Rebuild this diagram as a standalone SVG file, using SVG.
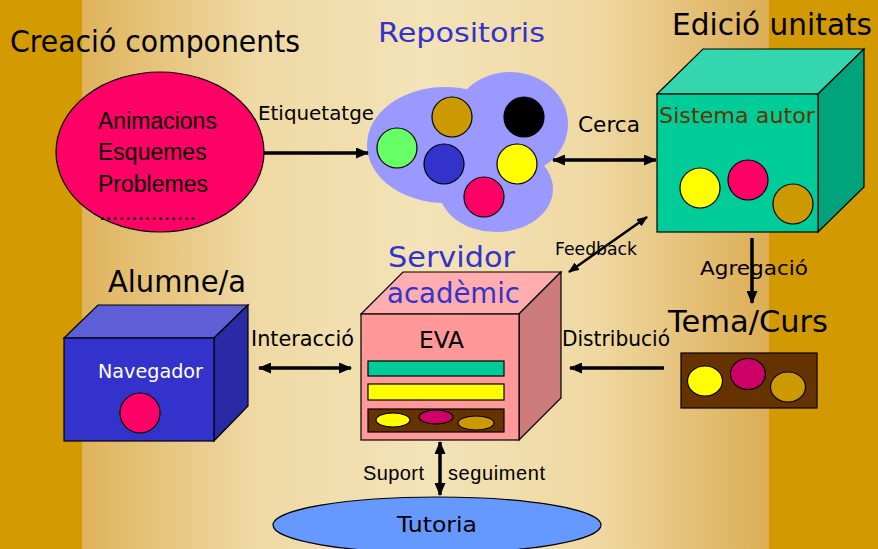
<svg xmlns="http://www.w3.org/2000/svg" width="878" height="549" viewBox="0 0 878 549">
<defs>
<linearGradient id="bg" x1="82" y1="0" x2="769" y2="0" gradientUnits="userSpaceOnUse">
<stop offset="0" stop-color="#DFB35C"/>
<stop offset="0.25" stop-color="#EFD9A4"/>
<stop offset="0.5" stop-color="#F3E3B8"/>
<stop offset="0.75" stop-color="#EFD8A2"/>
<stop offset="1" stop-color="#DCAD55"/>
</linearGradient>
<marker id="ah" markerUnits="userSpaceOnUse" markerWidth="13" markerHeight="11" refX="12" refY="5.5" orient="auto-start-reverse">
<path d="M0,0 L13,5.5 L0,11 z" fill="#000"/>
</marker>
<marker id="ahs" markerUnits="userSpaceOnUse" markerWidth="11" markerHeight="9" refX="10" refY="4.5" orient="auto-start-reverse">
<path d="M0,0 L11,4.5 L0,9 z" fill="#000"/>
</marker>
</defs>
<style>
.c{font-family:"DejaVu Sans","Liberation Sans",sans-serif;}
.a{font-family:"Liberation Sans",Arial,sans-serif;}
.blk{fill:#000;}
.blue{fill:#3333CC;}
.ol{stroke:#000;stroke-width:1.2;}
.arr{stroke:#000;stroke-width:3.5;fill:none;}
</style>
<rect x="0" y="0" width="878" height="549" fill="url(#bg)"/>
<rect x="0" y="0" width="82" height="549" fill="#D39B00"/>
<rect x="769" y="0" width="109" height="549" fill="#D29A00"/>

<g id="creacio">
<text class="c blk" x="10" y="52" font-size="30" textLength="290" lengthAdjust="spacingAndGlyphs">Creació components</text>
<ellipse class="ol" cx="160" cy="152" rx="104" ry="80" fill="#FF0066"/>
<text class="a blk" x="98" y="129" font-size="23">Animacions</text>
<text class="a blk" x="98" y="160" font-size="23">Esquemes</text>
<text class="a blk" x="98" y="192" font-size="23">Problemes</text>
<text class="a blk" x="99" y="220" font-size="23" textLength="97">...............</text>
</g>

<g id="repositoris">
<text class="c blue" x="378" y="42" font-size="26" textLength="167" lengthAdjust="spacingAndGlyphs">Repositoris</text>
<g fill="#9999FF">
<ellipse cx="445" cy="145" rx="78" ry="58"/>
<ellipse cx="510" cy="124" rx="58" ry="52"/>
<ellipse cx="496" cy="189" rx="57" ry="43"/>
</g>
<circle class="ol" cx="452" cy="117" r="20" fill="#CC9900"/>
<circle class="ol" cx="524" cy="117" r="20" fill="#000"/>
<circle class="ol" cx="397" cy="148" r="20" fill="#66FF66"/>
<circle class="ol" cx="444" cy="164" r="20" fill="#3333CC"/>
<circle class="ol" cx="517" cy="164" r="20" fill="#FFFF00"/>
<circle class="ol" cx="484" cy="197" r="20" fill="#FF0066"/>
</g>

<g id="edicio">
<text class="c blk" x="672" y="35" font-size="30" textLength="200" lengthAdjust="spacingAndGlyphs">Edició unitats</text>
<polygon class="ol" points="657,94 703,49 864,49 818,94" fill="#34D6AE"/>
<polygon class="ol" points="818,94 864,49 864,187 818,232" fill="#00A37A"/>
<rect class="ol" x="657" y="94" width="161" height="138" fill="#00CC99"/>
<text class="c" x="659" y="123" font-size="22" fill="#663300" textLength="156" lengthAdjust="spacingAndGlyphs">Sistema autor</text>
<circle class="ol" cx="700" cy="188" r="20" fill="#FFFF00"/>
<circle class="ol" cx="748" cy="180" r="20" fill="#FF0066"/>
<circle class="ol" cx="793" cy="204" r="20" fill="#CC9900"/>
</g>

<g id="tema">
<text class="c blk" x="668" y="332" font-size="31" textLength="160" lengthAdjust="spacingAndGlyphs">Tema/Curs</text>
<rect class="ol" x="681" y="353" width="136" height="55" fill="#663300"/>
<ellipse class="ol" cx="705" cy="381" rx="17.5" ry="15" fill="#FFFF00"/>
<ellipse class="ol" cx="748" cy="374" rx="17.5" ry="15.5" fill="#CC0066"/>
<ellipse class="ol" cx="788" cy="387" rx="17.5" ry="15" fill="#CC9900"/>
</g>

<g id="servidor">
<polygon class="ol" points="361,314 403,272 561,272 519,314" fill="#FFADAD"/>
<polygon class="ol" points="519,314 561,272 561,398 519,440" fill="#CC7A7A"/>
<rect class="ol" x="361" y="314" width="158" height="126" fill="#FF9999"/>
<text class="c blue" x="388" y="267" font-size="29" textLength="127" lengthAdjust="spacingAndGlyphs">Servidor</text>
<text class="c blue" x="387" y="303" font-size="29" textLength="133" lengthAdjust="spacingAndGlyphs">acadèmic</text>
<text class="c blk" x="419" y="348" font-size="23" textLength="45" lengthAdjust="spacingAndGlyphs">EVA</text>
<rect class="ol" x="368" y="361" width="136" height="15" fill="#00CC99"/>
<rect class="ol" x="368" y="384" width="136" height="16" fill="#FFFF00"/>
<rect class="ol" x="368" y="409" width="136" height="23" fill="#663300"/>
<ellipse class="ol" cx="393" cy="420" rx="17" ry="7" fill="#FFFF00"/>
<ellipse class="ol" cx="436" cy="417" rx="17" ry="7" fill="#CC0066"/>
<ellipse class="ol" cx="476" cy="423" rx="18" ry="7" fill="#CC9900"/>
</g>

<g id="alumne">
<text class="c blk" x="108" y="292" font-size="30" textLength="138" lengthAdjust="spacingAndGlyphs">Alumne/a</text>
<polygon class="ol" points="64,338 98,305 248,305 214,338" fill="#5E5ED6"/>
<polygon class="ol" points="214,338 248,305 248,406 214,441" fill="#2A2AA6"/>
<rect class="ol" x="64" y="338" width="150" height="103" fill="#3333CC"/>
<text class="c" x="98" y="378" font-size="20" fill="#FFFFFF" textLength="105" lengthAdjust="spacingAndGlyphs">Navegador</text>
<circle class="ol" cx="140" cy="413" r="20" fill="#FF0066"/>
</g>

<g id="tutoria">
<ellipse class="ol" cx="437" cy="525" rx="164" ry="28" fill="#6699FF"/>
<text class="c blk" x="397" y="532" font-size="22" textLength="80" lengthAdjust="spacingAndGlyphs">Tutoria</text>
</g>

<g id="connectors">
<line class="arr" x1="264" y1="153" x2="368" y2="153" marker-end="url(#ah)"/>
<text class="c blk" x="258" y="120" font-size="19" textLength="116" lengthAdjust="spacingAndGlyphs">Etiquetatge</text>
<line class="arr" x1="553" y1="160" x2="656" y2="160" marker-start="url(#ah)" marker-end="url(#ah)"/>
<text class="c blk" x="578" y="132" font-size="22" textLength="62" lengthAdjust="spacingAndGlyphs">Cerca</text>
<line x1="569" y1="272" x2="647" y2="217" stroke="#000" stroke-width="2.5" marker-start="url(#ahs)" marker-end="url(#ahs)"/>
<text class="c blk" x="555" y="255" font-size="17" textLength="82" lengthAdjust="spacingAndGlyphs">Feedback</text>
<line class="arr" x1="752" y1="238" x2="752" y2="303" marker-end="url(#ah)"/>
<text class="c blk" x="700" y="275" font-size="20" textLength="108" lengthAdjust="spacingAndGlyphs">Agregació</text>
<line class="arr" x1="664" y1="368" x2="570" y2="368" marker-end="url(#ah)"/>
<text class="c blk" x="562" y="346" font-size="21" textLength="108" lengthAdjust="spacingAndGlyphs">Distribució</text>
<line class="arr" x1="259" y1="368" x2="351" y2="368" marker-start="url(#ah)" marker-end="url(#ah)"/>
<text class="c blk" x="251" y="346" font-size="21" textLength="103" lengthAdjust="spacingAndGlyphs">Interacció</text>
<line class="arr" x1="440" y1="442" x2="440" y2="495" marker-start="url(#ah)" marker-end="url(#ah)"/>
<text class="a blk" x="363" y="480" font-size="20" textLength="61">Suport</text>
<text class="a blk" x="448" y="480" font-size="20" textLength="97">seguiment</text>
</g>
</svg>
